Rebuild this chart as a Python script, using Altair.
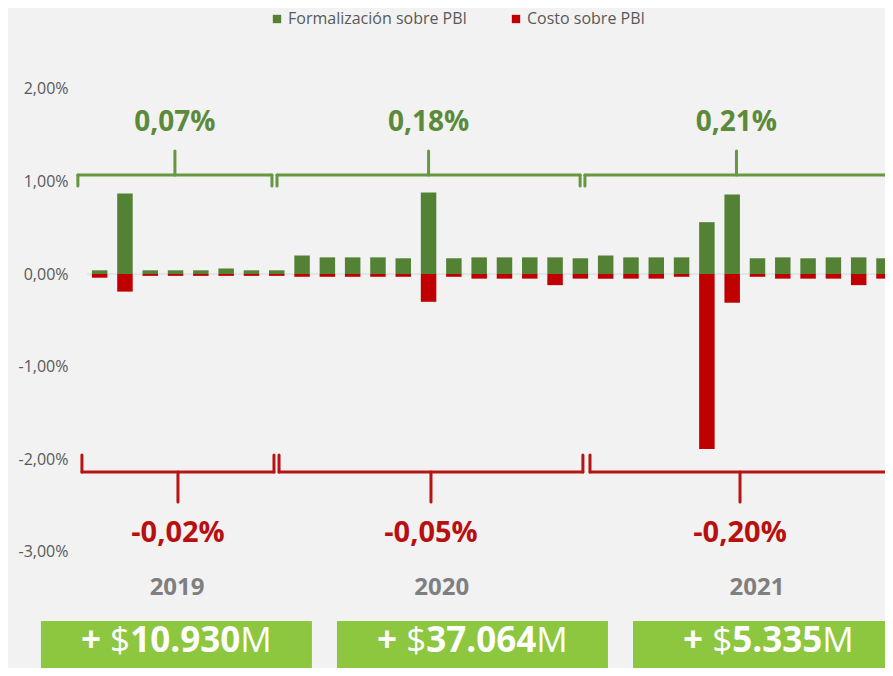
import altair as alt
import pandas as pd

# ---------------- data ----------------
periods = [
    "May-19", "Jun-19", "Jul-19", "Ago-19", "Sep-19", "Oct-19", "Nov-19", "Dic-19",
    "Ene-20", "Feb-20", "Mar-20", "Abr-20", "May-20", "Jun-20", "Jul-20", "Ago-20",
    "Sep-20", "Oct-20", "Nov-20", "Dic-20",
    "Ene-21", "Feb-21", "Mar-21", "Abr-21", "May-21", "Jun-21", "Jul-21", "Ago-21",
    "Sep-21", "Oct-21", "Nov-21", "Dic-21",
]
formalizacion = [
    0.04, 0.87, 0.04, 0.04, 0.04, 0.06, 0.04, 0.04,
    0.20, 0.18, 0.18, 0.18, 0.17, 0.88, 0.17, 0.18, 0.18, 0.18, 0.18, 0.17,
    0.20, 0.18, 0.18, 0.18, 0.56, 0.86, 0.17, 0.18, 0.17, 0.18, 0.18, 0.17,
]
costo = [
    0.04, 0.19, 0.02, 0.02, 0.02, 0.02, 0.02, 0.02,
    0.03, 0.03, 0.03, 0.03, 0.03, 0.30, 0.03, 0.05, 0.05, 0.05, 0.12, 0.05,
    0.05, 0.05, 0.05, 0.03, 1.89, 0.31, 0.03, 0.05, 0.05, 0.05, 0.12, 0.05,
]
series_names = ["Formalización sobre PBI", "Costo sobre PBI"]

years = ["2019", "2020", "2021"]
form_total = ["0,07%", "0,18%", "0,21%"]
cost_total = ["-0,02%", "-0,05%", "-0,20%"]
amounts = ["10.930", "37.064", "5.335"]

# ---------------- layout (in axis units: bar index / percent) ----------------
green_spans = [(-0.86, 6.81), (7.01, 18.99), (19.18, 31.16)]
red_spans = [(-0.70, 6.89), (7.09, 19.10), (19.38, 31.24)]
year_x = [3.06, 13.52, 25.98]
box_spans = [(-2.32, 8.39), (9.38, 20.09), (21.08, 31.79)]

G_LINE, G_HOOK, G_TICK, G_LABEL = 1.069, 0.950, 1.328, 1.544
R_LINE, R_HOOK, R_TICK, R_LABEL = -2.138, -1.955, -2.462, -2.894
YEAR_Y, BOX_TOP, BOX_BOTTOM, BOX_TEXT = -3.466, -3.747, -4.6, -4.08

GREEN, RED = "#548235", "#C00000"
BRACE_GREEN, BRACE_RED = "#67973F", "#B81414"
BOX_GREEN = "#8DC63F"
FONT = "Open Sans"

# ---------------- tables ----------------
rows = []
for i, p in enumerate(periods):
    rows.append({"idx": i, "period": p, "series": series_names[0], "value": formalizacion[i]})
    rows.append({"idx": i, "period": p, "series": series_names[1], "value": -costo[i]})
df = pd.DataFrame(rows)


def brace_segments(spans, line, hook, tick):
    seg = []
    for a, b in spans:
        c = (a + b) / 2
        seg += [
            {"x": a, "x2": b, "y": line, "y2": line},
            {"x": a, "x2": a, "y": line, "y2": hook},
            {"x": b, "x2": b, "y": line, "y2": hook},
            {"x": c, "x2": c, "y": line, "y2": tick},
        ]
    return pd.DataFrame(seg)


g_seg = brace_segments(green_spans, G_LINE, G_HOOK, G_TICK)
r_seg = brace_segments(red_spans, R_LINE, R_HOOK, R_TICK)

green_lab = pd.DataFrame({"x": [(a + b) / 2 for a, b in green_spans], "y": G_LABEL, "t": form_total})
red_lab = pd.DataFrame({"x": [(a + b) / 2 for a, b in red_spans], "y": R_LABEL, "t": cost_total})
year_lab = pd.DataFrame({"x": year_x, "y": YEAR_Y, "t": years})
box_df = pd.DataFrame({"x": [a for a, b in box_spans], "x2": [b for a, b in box_spans],
                       "y": BOX_TOP, "y2": BOX_BOTTOM})

# ---------------- scales ----------------
xs = alt.Scale(domain=[-0.5, 31.04], nice=False, zero=False, padding=0)
ys = alt.Scale(domain=[-4.255, 2.873], nice=False, padding=0)
yaxis = alt.Axis(
    values=[-3, -2, -1, 0, 1, 2],
    labelExpr="(datum.value < 0 ? '-' : '') + replace(format(abs(datum.value), '.2f'), '.', ',') + '%'",
    grid=False, domain=False, ticks=False, labelPadding=19,
    labelFont=FONT, labelFontSize=16, labelColor="#595959", title=None,
)


def X(f):
    return alt.X(f, scale=xs, axis=None, title=None)


def Y(f):
    return alt.Y(f, scale=ys, axis=yaxis, title=None)


zero = alt.Chart(pd.DataFrame({"v": [0]})).mark_rule(color="#d3d8dd", strokeWidth=1).encode(y=Y("v:Q"))

bars = alt.Chart(df).mark_bar(size=15.5).encode(
    x=X("idx:Q"),
    y=alt.Y("value:Q", scale=ys, axis=yaxis, title=None, stack=None),
    y2=alt.datum(0),
    color=alt.Color(
        "series:N",
        scale=alt.Scale(domain=series_names, range=[GREEN, RED]),
        legend=alt.Legend(
            title=None, orient="none", legendX=182, legendY=3, direction="horizontal",
            symbolType="square", symbolSize=70, symbolStrokeWidth=0,
            labelFont=FONT, labelFontSize=16, labelColor="#595959",
            columnPadding=40, labelOffset=3, padding=0, labelLimit=400,
        ),
    ),
)

g_brace = alt.Chart(g_seg).mark_rule(strokeWidth=3, strokeCap="round", color=BRACE_GREEN).encode(
    x=X("x:Q"), x2="x2:Q", y=Y("y:Q"), y2="y2:Q")
r_brace = alt.Chart(r_seg).mark_rule(strokeWidth=3, strokeCap="round", color=BRACE_RED).encode(
    x=X("x:Q"), x2="x2:Q", y=Y("y:Q"), y2="y2:Q")

g_text = alt.Chart(green_lab).mark_text(font=FONT, fontWeight="bold", fontSize=28, color="#5A8A3A",
                                        baseline="alphabetic").encode(x=X("x:Q"), y=Y("y:Q"), text="t:N")
r_text = alt.Chart(red_lab).mark_text(font=FONT, fontWeight="bold", fontSize=29, color="#B80F0F",
                                      baseline="alphabetic").encode(x=X("x:Q"), y=Y("y:Q"), text="t:N")
y_text = alt.Chart(year_lab).mark_text(font=FONT, fontWeight="bold", fontSize=24, color="#7F7F7F",
                                       baseline="alphabetic").encode(x=X("x:Q"), y=Y("y:Q"), text="t:N")

boxes = alt.Chart(box_df).mark_rect(color=BOX_GREEN).encode(x=X("x:Q"), x2="x2:Q", y=Y("y:Q"), y2="y2:Q")

# mixed-weight box text: "+ " bold, "$" regular, number bold, "M" regular
BOX_FS = 35
W_BOLD = {"+": 1171, " ": 532, ".": 586}
W_REG = {"$": 1171, "M": 1853}


def width(s, table):
    return sum(table.get(ch, 1171) for ch in s) * BOX_FS / 2048


box_layers = []
for k, amt in enumerate(amounts):
    parts = [("+ ", "bold", W_BOLD), ("$", "normal", W_REG), (amt, "bold", W_BOLD), ("M", "normal", W_REG)]
    total = sum(width(s, t) for s, _, t in parts)
    off = -total / 2
    cx = (box_spans[k][0] + box_spans[k][1]) / 2
    row = pd.DataFrame({"x": [cx], "y": [BOX_TEXT]})
    for s, wt, t in parts:
        box_layers.append(
            alt.Chart(row).mark_text(font=FONT, fontWeight=wt, fontSize=BOX_FS, color="white",
                                     align="left", baseline="alphabetic", dx=off, text=s)
            .encode(x=X("x:Q"), y=Y("y:Q"))
        )
        off += width(s, t)

chart = alt.layer(zero, bars, g_brace, r_brace, g_text, r_text, y_text, boxes, *box_layers).properties(
    width=798, height=660,
    autosize=alt.AutoSizeParams(type="none"),
    padding={"left": 79, "top": 0, "right": 0, "bottom": 0},
    background="#F2F2F2",
).configure_view(stroke=None)

chart.save("out.html", embed_options={"renderer": "svg", "actions": False})
